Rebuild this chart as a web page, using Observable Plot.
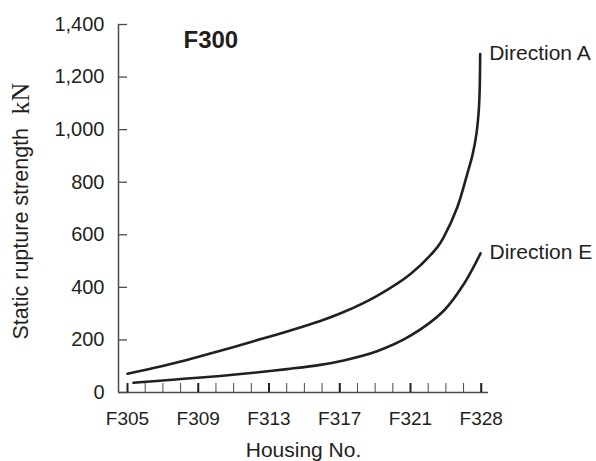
<!DOCTYPE html>
<html>
<head>
<meta charset="utf-8">
<script src="https://cdn.jsdelivr.net/npm/d3@7"></script>
<script src="https://cdn.jsdelivr.net/npm/@observablehq/plot@0.6"></script>
<style>
  html, body { margin: 0; padding: 0; background: #fff; }
  svg { display: block; }
</style>
</head>
<body>
<div id="chart"></div>
<script>
// Housing numbers (x categories, evenly spaced)
const housing = ["F305","F306","F307","F308","F309","F310","F311","F312","F313","F314","F315","F316","F317","F318","F319","F320","F321","F322","F324","F326","F328"];
const labeledIdx = [0, 4, 8, 12, 16, 20];
const yTicks = [0, 200, 400, 600, 800, 1000, 1200, 1400];

// Direction A: position along housing axis (index) and static rupture strength (kN)
const aPos = [0, 1.47, 3.36, 5.25, 7.13, 9.02, 10.9, 12.22, 14.11, 16.0, 17.51, 17.88, 18.64, 19.21, 19.51, 19.73, 19.86, 19.91, 19.94];
const aVal = [71, 93, 124, 159, 195, 232, 272, 306, 368, 451, 552, 591, 704, 832, 905, 985, 1073, 1149, 1288];

// Direction E
const ePos = [0.34, 1.47, 3.36, 5.25, 7.13, 9.02, 10.9, 12.22, 14.11, 16.0, 17.88, 19.02, 19.96];
const eVal = [37, 43, 53, 63, 75, 89, 105, 122, 157, 216, 311, 413, 529];

const seriesNames = ["Direction A", "Direction E"];

const rows = [
  ...aPos.map((p, i) => ({series: seriesNames[0], pos: p, val: aVal[i]})),
  ...ePos.map((p, i) => ({series: seriesNames[1], pos: p, val: eVal[i]}))
];
const ends = [
  {series: seriesNames[0], pos: aPos[aPos.length - 1], val: aVal[aVal.length - 1]},
  {series: seriesNames[1], pos: ePos[ePos.length - 1], val: eVal[eVal.length - 1]}
];

const xDomain = [-0.51, 20.41];
const ink = "#231f20";
const axisInk = "#4a4a4a";

const chart = Plot.plot({
  width: 596,
  height: 461,
  marginLeft: 118,
  marginRight: 108,
  marginTop: 24,
  marginBottom: 69,
  style: {fontFamily: "'Liberation Sans', Arial, Helvetica, sans-serif", fontSize: "19px", color: ink, background: "#fff"},
  x: {type: "linear", domain: xDomain},
  y: {domain: [0, 1400]},
  marks: [
    // axis lines
    Plot.ruleY([0], {stroke: axisInk, strokeWidth: 1.5}),
    Plot.ruleX([xDomain[0]], {stroke: axisInk, strokeWidth: 1.5}),
    // y ticks (inward) and labels
    Plot.axisY({ticks: yTicks, tickSize: -9, tickFormat: () => "", label: null, stroke: axisInk, strokeWidth: 1.3}),
    Plot.axisY({ticks: yTicks, tickSize: 0, tickPadding: 14, tickFormat: d3.format(","), label: null, fontSize: 20, fill: ink}),
    // x ticks: all housings thin, labeled ones bold
    Plot.axisX({ticks: d3.range(housing.length), tickSize: -9, tickFormat: () => "", label: null, stroke: axisInk, strokeWidth: 1}),
    Plot.axisX({ticks: labeledIdx, tickSize: -9, tickFormat: () => "", label: null, stroke: ink, strokeWidth: 2}),
    Plot.axisX({ticks: labeledIdx, tickSize: 0, tickPadding: 19, tickFormat: i => housing[i], label: null, fontSize: 19, fill: ink}),
    // axis titles
    Plot.text(["Housing No."], {frameAnchor: "bottom", dy: 50, lineAnchor: "top", fontSize: 21, fill: ink}),
    Plot.text(["Static rupture strength"], {frameAnchor: "left", dx: -97, dy: 131, rotate: -90, textAnchor: "start", lineAnchor: "middle", fontSize: 21.5, fill: ink}),
    Plot.text(["kN"], {frameAnchor: "left", dx: -98, dy: -94, rotate: -90, textAnchor: "start", lineAnchor: "middle", fontSize: 26, fill: ink, fontFamily: "'Liberation Serif', 'Times New Roman', serif"}),
    // panel title
    Plot.text(["F300"], {frameAnchor: "top-left", dx: 65, dy: 6, lineAnchor: "top", textAnchor: "start", fontSize: 24, fontWeight: "bold", fill: ink}),
    // curves
    Plot.line(rows, {x: "pos", y: "val", z: "series", stroke: ink, strokeWidth: 2.6, curve: "catmull-rom"}),
    Plot.text(ends, {x: "pos", y: "val", text: "series", dx: 9, dy: -1, textAnchor: "start", lineAnchor: "middle", fontSize: 21, fill: ink})
  ]
});
document.getElementById("chart").appendChild(chart);
</script>
</body>
</html>
